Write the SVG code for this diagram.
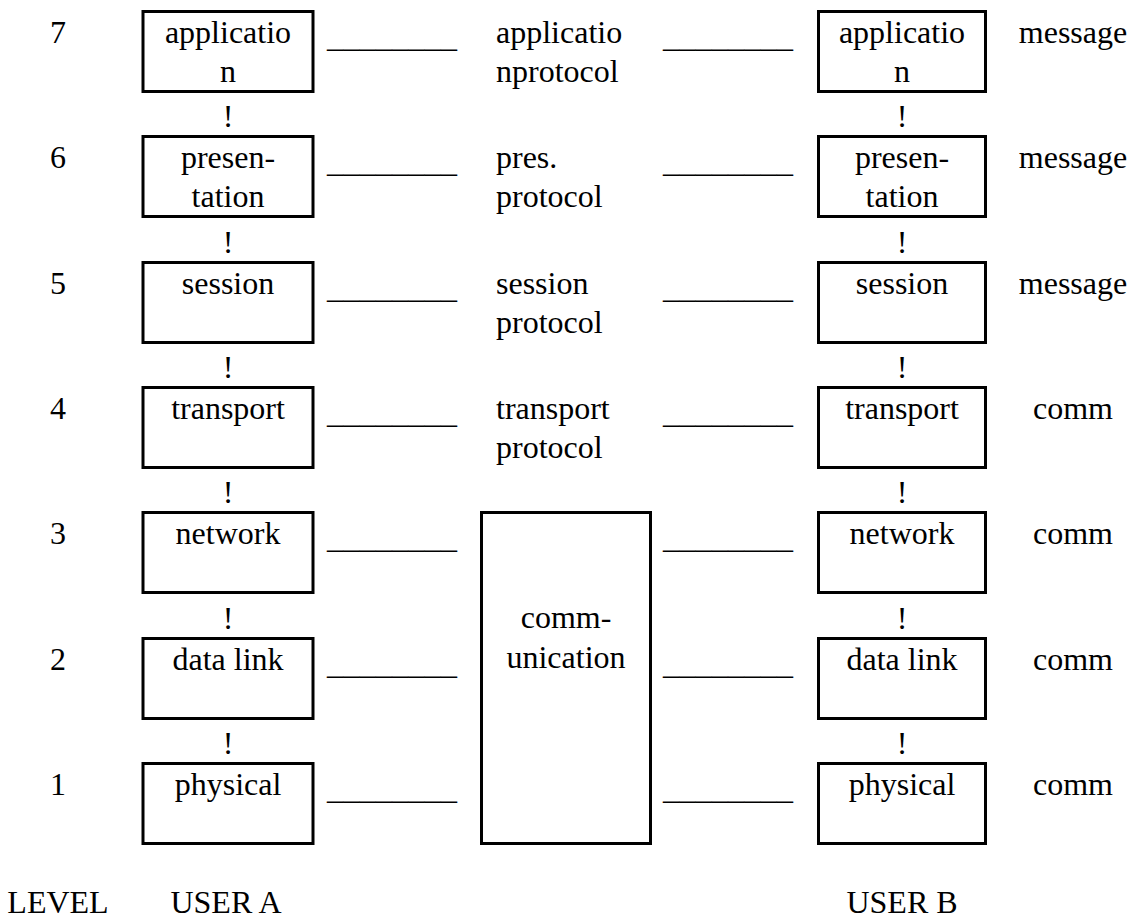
<svg xmlns="http://www.w3.org/2000/svg" width="1131" height="921" viewBox="0 0 1131 921">
<style>
text{font-family:"Liberation Serif","Times New Roman",serif;font-size:32px;fill:#000}
.c{text-anchor:middle}
.box{fill:#fff;stroke:#000;stroke-width:3}
</style>
<rect width="1131" height="921" fill="#fff"/>
<g id="levels">
<text class="c" x="58" y="43">7</text>
<text class="c" x="58" y="168">6</text>
<text class="c" x="58" y="294">5</text>
<text class="c" x="58" y="419">4</text>
<text class="c" x="58" y="544">3</text>
<text class="c" x="58" y="670">2</text>
<text class="c" x="58" y="795">1</text>
</g>
<g id="connectors">
<text x="327" y="47" textLength="130" lengthAdjust="spacingAndGlyphs">________</text>
<text x="327" y="172" textLength="130" lengthAdjust="spacingAndGlyphs">________</text>
<text x="327" y="298" textLength="130" lengthAdjust="spacingAndGlyphs">________</text>
<text x="327" y="423" textLength="130" lengthAdjust="spacingAndGlyphs">________</text>
<text x="327" y="548" textLength="130" lengthAdjust="spacingAndGlyphs">________</text>
<text x="327" y="674" textLength="130" lengthAdjust="spacingAndGlyphs">________</text>
<text x="327" y="799" textLength="130" lengthAdjust="spacingAndGlyphs">________</text>
<text x="663" y="47" textLength="130" lengthAdjust="spacingAndGlyphs">________</text>
<text x="663" y="172" textLength="130" lengthAdjust="spacingAndGlyphs">________</text>
<text x="663" y="298" textLength="130" lengthAdjust="spacingAndGlyphs">________</text>
<text x="663" y="423" textLength="130" lengthAdjust="spacingAndGlyphs">________</text>
<text x="663" y="548" textLength="130" lengthAdjust="spacingAndGlyphs">________</text>
<text x="663" y="674" textLength="130" lengthAdjust="spacingAndGlyphs">________</text>
<text x="663" y="799" textLength="130" lengthAdjust="spacingAndGlyphs">________</text>
<text class="c" x="228" y="127">!</text>
<text class="c" x="228" y="253">!</text>
<text class="c" x="228" y="378">!</text>
<text class="c" x="228" y="503">!</text>
<text class="c" x="228" y="629">!</text>
<text class="c" x="228" y="754">!</text>
<text class="c" x="902" y="127">!</text>
<text class="c" x="902" y="253">!</text>
<text class="c" x="902" y="378">!</text>
<text class="c" x="902" y="503">!</text>
<text class="c" x="902" y="629">!</text>
<text class="c" x="902" y="754">!</text>
</g>
<g id="a-application"><rect class="box" x="143" y="11.5" width="170" height="80"/><text class="c" x="228" y="43">applicatio</text><text class="c" x="228" y="82">n</text></g>
<g id="a-presentation"><rect class="box" x="143" y="136.5" width="170" height="80"/><text class="c" x="228" y="168">presen-</text><text class="c" x="228" y="207">tation</text></g>
<g id="a-session"><rect class="box" x="143" y="262.5" width="170" height="80"/><text class="c" x="228" y="294">session</text></g>
<g id="a-transport"><rect class="box" x="143" y="387.5" width="170" height="80"/><text class="c" x="228" y="419">transport</text></g>
<g id="a-network"><rect class="box" x="143" y="512.5" width="170" height="80"/><text class="c" x="228" y="544">network</text></g>
<g id="a-datalink"><rect class="box" x="143" y="638.5" width="170" height="80"/><text class="c" x="228" y="670">data link</text></g>
<g id="a-physical"><rect class="box" x="143" y="763.5" width="170" height="80"/><text class="c" x="228" y="795">physical</text></g>
<g id="b-application"><rect class="box" x="818.5" y="11.5" width="167" height="80"/><text class="c" x="902" y="43">applicatio</text><text class="c" x="902" y="82">n</text></g>
<g id="b-presentation"><rect class="box" x="818.5" y="136.5" width="167" height="80"/><text class="c" x="902" y="168">presen-</text><text class="c" x="902" y="207">tation</text></g>
<g id="b-session"><rect class="box" x="818.5" y="262.5" width="167" height="80"/><text class="c" x="902" y="294">session</text></g>
<g id="b-transport"><rect class="box" x="818.5" y="387.5" width="167" height="80"/><text class="c" x="902" y="419">transport</text></g>
<g id="b-network"><rect class="box" x="818.5" y="512.5" width="167" height="80"/><text class="c" x="902" y="544">network</text></g>
<g id="b-datalink"><rect class="box" x="818.5" y="638.5" width="167" height="80"/><text class="c" x="902" y="670">data link</text></g>
<g id="b-physical"><rect class="box" x="818.5" y="763.5" width="167" height="80"/><text class="c" x="902" y="795">physical</text></g>
<g id="communication"><rect class="box" x="481.5" y="512.5" width="169" height="331"/><text class="c" x="566" y="628">comm-</text><text class="c" x="566" y="668">unication</text></g>
<g id="protocols">
<text x="496" y="43">applicatio</text><text x="496" y="82">nprotocol</text>
<text x="496" y="168">pres.</text><text x="496" y="207">protocol</text>
<text x="496" y="294">session</text><text x="496" y="333">protocol</text>
<text x="496" y="419">transport</text><text x="496" y="458">protocol</text>
</g>
<g id="units">
<text class="c" x="1073" y="43">message</text>
<text class="c" x="1073" y="168">message</text>
<text class="c" x="1073" y="294">message</text>
<text class="c" x="1073" y="419">comm</text>
<text class="c" x="1073" y="544">comm</text>
<text class="c" x="1073" y="670">comm</text>
<text class="c" x="1073" y="795">comm</text>
</g>
<g id="footer">
<text class="c" x="58" y="913">LEVEL</text>
<text class="c" x="226" y="913">USER A</text>
<text class="c" x="902" y="913">USER B</text>
</g>
</svg>
